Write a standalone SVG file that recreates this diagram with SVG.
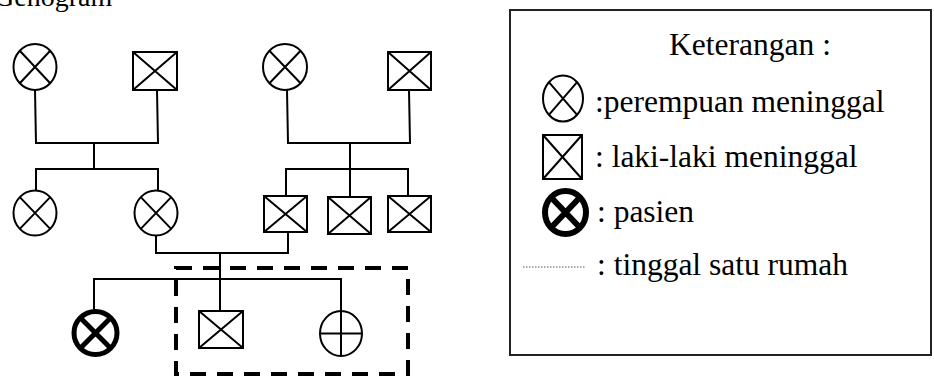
<svg xmlns="http://www.w3.org/2000/svg" width="934" height="376" viewBox="0 0 934 376">
  <style>
    .sym { fill: #fff; stroke: #000; stroke-width: 2; }
    .mark { stroke: #000; stroke-width: 2; fill: none; }
    .bold { fill: #fff; stroke: #000; stroke-width: 5; }
    .boldmark { stroke: #000; stroke-width: 5; fill: none; }
    .link { stroke: #000; stroke-width: 2; fill: none; stroke-linecap: square; }
    .house { stroke: #000; stroke-width: 4; fill: none; stroke-dasharray: 16 11; }
    .txt { font-family: "Liberation Serif", "Times New Roman", serif; font-size: 31.5px; fill: #000; }
  </style>

  <text class="txt" x="-6" y="6" style="font-size:28px">Genogram</text>

  <!-- household boundary -->
  <rect class="house" x="176" y="268" width="232" height="106"/>

  <!-- lines of descent and marriage -->
  <g id="connectors">
    <polyline class="link" points="35,90 36,143 158,143 157,90"/>
    <polyline class="link" points="94,143 94,169"/>
    <polyline class="link" points="36,191 36,169 158,169 158,191"/>
    <polyline class="link" points="287,90 288,143 410,143 409,90"/>
    <polyline class="link" points="350,143 350,197"/>
    <polyline class="link" points="286,196 286,169 408,169 408,196"/>
    <polyline class="link" points="156,236 156,253 288,253 288,232"/>
    <polyline class="link" points="220,253 220,311"/>
    <polyline class="link" points="94,309 94,279 341,279 341,311"/>
  </g>

  <!-- grandparents, father's side -->
  <g id="gm1">
    <ellipse class="sym" cx="35" cy="67" rx="21.5" ry="23"/>
    <path class="mark" d="M19.8,50.7 L50.2,83.3 M50.2,50.7 L19.8,83.3"/>
  </g>
  <g id="gf1">
    <rect class="sym" x="133" y="52" width="44" height="38"/>
    <path class="mark" d="M133,52 L177,90 M177,52 L133,90"/>
  </g>

  <!-- grandparents, mother's side -->
  <g id="gm2">
    <ellipse class="sym" cx="285" cy="67" rx="22" ry="23"/>
    <path class="mark" d="M269.4,50.7 L300.6,83.3 M300.6,50.7 L269.4,83.3"/>
  </g>
  <g id="gf2">
    <rect class="sym" x="388" y="52" width="43" height="38"/>
    <path class="mark" d="M388,52 L431,90 M431,52 L388,90"/>
  </g>

  <!-- second generation -->
  <g id="aunt">
    <ellipse class="sym" cx="35" cy="213" rx="21.5" ry="22.5"/>
    <path class="mark" d="M19.8,197.1 L50.2,228.9 M50.2,197.1 L19.8,228.9"/>
  </g>
  <g id="mother">
    <ellipse class="sym" cx="156" cy="213" rx="21.5" ry="22.5"/>
    <path class="mark" d="M140.8,197.1 L171.2,228.9 M171.2,197.1 L140.8,228.9"/>
  </g>
  <g id="father">
    <rect class="sym" x="264" y="196" width="43" height="36"/>
    <path class="mark" d="M264,196 L307,232 M307,196 L264,232"/>
  </g>
  <g id="uncle1">
    <rect class="sym" x="328" y="197" width="43" height="37"/>
    <path class="mark" d="M328,197 L371,234 M371,197 L328,234"/>
  </g>
  <g id="uncle2">
    <rect class="sym" x="388" y="196" width="43" height="36"/>
    <path class="mark" d="M388,196 L431,232 M431,196 L388,232"/>
  </g>

  <!-- third generation -->
  <g id="patient">
    <ellipse class="bold" cx="95.5" cy="333" rx="21.5" ry="21.5"/>
    <path class="boldmark" d="M80.3,317.8 L110.7,348.2 M110.7,317.8 L80.3,348.2"/>
  </g>
  <g id="brother">
    <rect class="sym" x="199" y="311" width="44" height="37"/>
    <path class="mark" d="M199,311 L243,348 M243,311 L199,348"/>
  </g>
  <g id="sister">
    <ellipse class="sym" cx="341" cy="333.5" rx="21" ry="22.5"/>
    <path class="mark" d="M341,311 L341,356 M320,333.5 L362,333.5"/>
  </g>

  <!-- legend -->
  <g id="legend">
    <rect x="510" y="10" width="421" height="345" fill="#fff" stroke="#222" stroke-width="2"/>
    <text class="txt" x="750" y="55" text-anchor="middle">Keterangan :</text>
    <ellipse class="sym" cx="563" cy="98.5" rx="20" ry="23"/>
    <path class="mark" d="M548.9,82.2 L577.1,114.8 M577.1,82.2 L548.9,114.8"/>
    <text class="txt" x="595" y="112">:perempuan meninggal</text>
    <rect class="sym" x="543" y="135" width="39" height="44"/>
    <path class="mark" d="M543,135 L582,179 M582,135 L543,179"/>
    <text class="txt" x="595" y="167">: laki-laki meninggal</text>
    <ellipse cx="565.5" cy="212.5" rx="20.5" ry="21.5" fill="#fff" stroke="#000" stroke-width="6"/>
    <path d="M551,197.3 L580,227.7 M580,197.3 L551,227.7" stroke="#000" stroke-width="6" fill="none"/>
    <text class="txt" x="597" y="222">: pasien</text>
    <line x1="523" y1="267" x2="585" y2="267" stroke="#555" stroke-width="1" stroke-dasharray="1.5 1.5"/>
    <text class="txt" x="597" y="275">: tinggal satu rumah</text>
  </g>
</svg>
